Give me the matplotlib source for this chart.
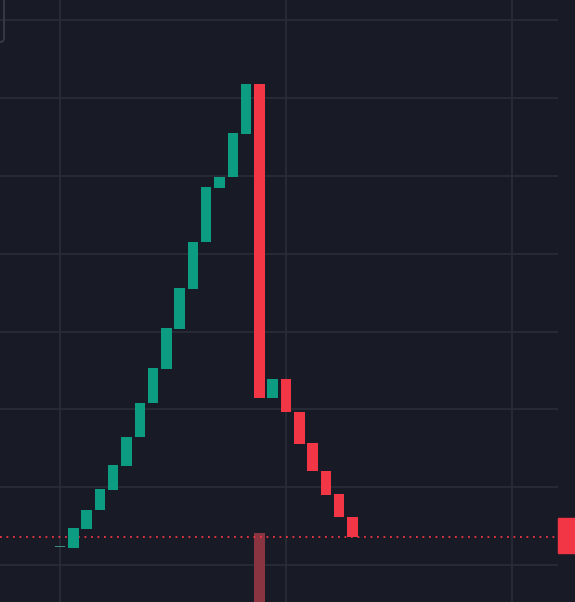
import matplotlib
matplotlib.use("Agg")
import matplotlib.pyplot as plt
from matplotlib.patches import FancyBboxPatch, Rectangle
import numpy as np

# ---- data (arbitrary price units) ----
opens = [12.25, 12.19, 14.63, 17.07, 19.64, 22.72, 26.45, 30.82, 35.19, 40.33,
         45.47, 51.51, 58.45, 59.87, 65.40, 71.82, 31.46, 33.91, 29.67, 25.68,
         22.08, 19.13, 16.17]
closes = [12.25, 14.76, 17.07, 19.77, 22.85, 26.45, 30.82, 35.32, 40.46, 45.60,
          51.51, 58.58, 59.87, 65.52, 71.82, 31.46, 33.91, 29.67, 25.55, 22.08,
          19.00, 16.17, 13.60]
volumes = [0, 0, 0, 0, 0, 0, 0, 0, 0, 0, 0, 0, 0, 0, 0, 100, 0, 0, 0, 0, 0, 0, 0]
last_price = 13.60
price_grid = [10, 20, 30, 40, 50, 60, 70, 80]
time_grid = [0, 17, 34]

BG = "#181b26"
GRID = "#2a2e39"
UP = "#0c9c82"
DOWN = "#f23645"
VOL_DOWN = "#8a3442"

W, H = 575, 602
fig = plt.figure(figsize=(W / 100, H / 100), dpi=100, facecolor=BG)
ax = fig.add_axes([0, 0, 558 / W, 1])
ax.set_facecolor(BG)

step = 13.294
x0_px = 60.0
ax.set_xlim(-x0_px / step, (558 - x0_px) / step)
scale = 10 / 77.8  # price units per pixel
ymin = 10 - (602 - 565) * scale
ax.set_ylim(ymin, 10 + 565 * scale)

ax.set_xticks(time_grid)
ax.set_yticks(price_grid)
ax.grid(True, color=GRID, linewidth=1.2, zorder=0)
ax.set_axisbelow(True)
ax.tick_params(length=0, labelleft=False, labelbottom=False)
for s in ax.spines.values():
    s.set_visible(False)

x = np.arange(len(opens))
o = np.array(opens)
c = np.array(closes)
cols = [UP if cc >= oo else DOWN for oo, cc in zip(o, c)]
cols[0] = "#3c8f80"
bottoms = np.minimum(o, c)
heights = np.maximum(np.abs(c - o), 1.3 * scale)

# volume pane: bottom 69 px corresponds to max volume
vol = np.array(volumes, dtype=float)
vol_h = vol / vol.max() * 69 * scale
vcols = [VOL_DOWN if cc < oo else UP for oo, cc in zip(o, c)]
ax.bar(x, vol_h, bottom=ymin, width=0.79, color=vcols, zorder=1.5)

# last price dotted line
ax.axhline(last_price, color=DOWN, linewidth=1.3, linestyle=(0, (1, 2.6)), zorder=2)

ax.bar(x, heights, bottom=bottoms, width=0.79, color=cols, zorder=3)

# price label on scale (clipped)
ly = ax.transData.transform((0, last_price))[1]
fig.patches.append(Rectangle((558, ly - 16), 20, 35, transform=None, color=DOWN, zorder=5))

# top-left rounded button (partially visible)
fig.patches.append(FancyBboxPatch((-20, 560), 24, 45, boxstyle="round,pad=0,rounding_size=4",
                                  transform=None, facecolor="none", edgecolor="#3a3e4a",
                                  linewidth=1.2, zorder=5))

fig.savefig("out.png", dpi=100, facecolor=BG)
